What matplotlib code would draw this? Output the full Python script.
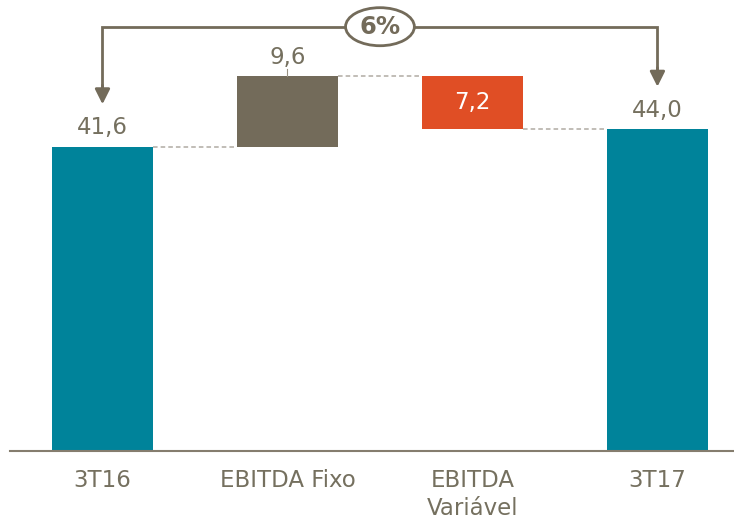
import numpy as np
import matplotlib
matplotlib.use("Agg")
import matplotlib.pyplot as plt
from matplotlib.patches import Ellipse

# data
categories = ['3T16', 'EBITDA Fixo', 'EBITDA\nVariável', '3T17']
values = [41.6, 9.6, -7.2, 44.0]
labels = ['41,6', '9,6', '7,2', '44,0']
growth_label = '6%'

teal = '#00839A'
brown = '#736B5A'
orange = '#E04E25'
text_grey = '#75705F'

# waterfall bottoms / heights
start, delta1, delta2, end = values
bottoms = [0, start, start + delta1 + delta2, 0]
heights = [start, delta1, -delta2, end]
tops = [b + h for b, h in zip(bottoms, heights)]
colors = [teal, brown, orange, teal]

fig = plt.figure(figsize=(7.34, 5.2), dpi=100)
ax = fig.add_axes([10 / 734, 69 / 520, 724 / 734, 451 / 520])
x = np.arange(len(categories))
w = 0.546
ax.bar(x, heights, bottom=bottoms, width=w, color=colors, zorder=2)

ax.set_xlim(-0.5, 3.414)
ax.set_ylim(0, 61.65)

# dashed connectors
levels = [start, start + delta1, start + delta1 + delta2]
for i, lv in enumerate(levels):
    ax.plot([x[i] + w / 2, x[i + 1] - w / 2], [lv, lv], ls=(0, (3, 2)),
            color='#B0ABA3', lw=1.1, zorder=1)

# value labels
fs = 16.5
ax.text(x[0], tops[0] + 1.0, labels[0], ha='center', va='bottom',
        fontsize=fs, color=text_grey)
ax.text(x[1], tops[1] + 1.0, labels[1], ha='center', va='bottom',
        fontsize=fs, color=text_grey)
ax.plot([x[1], x[1]], [tops[1], tops[1] + 1.0], color='#9A9384', lw=0.8)
ax.text(x[2], bottoms[2] + heights[2] / 2, labels[2], ha='center', va='center',
        fontsize=fs, color='white')
ax.text(x[3], tops[3] + 1.0, labels[3], ha='center', va='bottom',
        fontsize=fs, color=text_grey)

# growth bracket
yb = 58.0
ax.plot([x[0], x[0], x[3], x[3]], [tops[0] + 8.2, yb, yb, tops[3] + 8.2],
        color=brown, lw=2, solid_joinstyle='miter', zorder=3)
for xi, ytip in [(x[0], tops[0] + 5.8), (x[3], tops[3] + 5.8)]:
    ax.annotate('', xy=(xi, ytip), xytext=(xi, ytip + 2.6),
                arrowprops=dict(arrowstyle='-|>,head_length=0.9,head_width=0.45',
                                color=brown, lw=2, shrinkA=0, shrinkB=0))
ax.add_patch(Ellipse((1.5, yb), 0.372, 5.2, facecolor='white', edgecolor=brown,
                     lw=2, zorder=4))
ax.text(1.5, yb, growth_label, ha='center', va='center', fontsize=17.5,
        fontweight='bold', color=brown, zorder=5)

# axes styling
for s in ['top', 'right', 'left']:
    ax.spines[s].set_visible(False)
ax.spines['bottom'].set_color('#857D6E')
ax.spines['bottom'].set_linewidth(1.5)
ax.set_yticks([])
ax.set_xticks(x)
ax.set_xticklabels(categories, fontsize=16.5, color=text_grey, linespacing=1.25)
ax.tick_params(axis='x', length=0, pad=13)

fig.savefig('out.png', dpi=100)
